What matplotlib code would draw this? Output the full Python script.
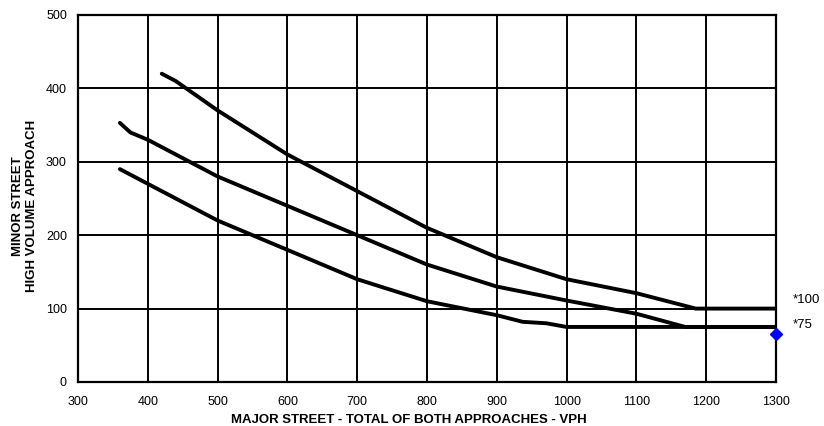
import matplotlib
matplotlib.use("Agg")
import matplotlib.pyplot as plt

plt.rcParams['font.family'] = ['Liberation Sans', 'DejaVu Sans']

# curve for 100 vph on minor approach (upper)
upper_x = [420, 440, 500, 600, 700, 800, 900, 1000, 1100, 1185, 1300]
upper_y = [420, 410, 370, 310, 260, 210, 170, 140, 121, 100, 100]

# middle curve
mid_x = [360, 375, 400, 500, 600, 700, 800, 900, 1000, 1100, 1170, 1300]
mid_y = [353, 340, 330, 280, 240, 200, 160, 130, 111, 93, 75, 75]

# lower curve
low_x = [360, 400, 500, 600, 700, 800, 900, 937, 971, 1000, 1300]
low_y = [290, 270, 220, 180, 140, 110, 91, 82, 80, 75, 75]

point_x = [1300]
point_y = [65]

labels = ["*100", "*75"]
label_y = [112, 77]

fig = plt.figure(figsize=(8.24, 4.26), dpi=100)
ax = fig.add_axes([0.0947, 0.1033, 0.847, 0.8615])

for xs, ys in [(upper_x, upper_y), (mid_x, mid_y), (low_x, low_y)]:
    ax.plot(xs, ys, color='black', lw=2.8, solid_capstyle='round', zorder=3)

ax.plot(point_x, point_y, marker='D', color='#0000ff', ms=6, ls='none',
        clip_on=False, zorder=4)

ax.set_xlim(300, 1300)
ax.set_ylim(0, 500)
ax.set_xticks(range(300, 1301, 100))
ax.set_yticks(range(0, 501, 100))
ax.grid(True, color='black', lw=1.4)
ax.tick_params(length=0, labelsize=9)
ax.tick_params(axis='x', pad=10)
ax.tick_params(axis='y', pad=8)
for s in ax.spines.values():
    s.set_linewidth(1.6)

for t, y in zip(labels, label_y):
    ax.text(1324, y, t, fontsize=9.5, va='center', ha='left')

ax.set_xlabel("MAJOR STREET - TOTAL OF BOTH APPROACHES - VPH",
              fontsize=9.5, fontweight='bold', va='center')
ax.xaxis.set_label_coords(0.474, -0.1035)
ax.set_ylabel("MINOR STREET\nHIGH VOLUME APPROACH",
              fontsize=9.5, fontweight='bold', va='center', linespacing=1.2)
ax.yaxis.set_label_coords(-0.076, 0.48)

fig.savefig("out.png", dpi=100)
